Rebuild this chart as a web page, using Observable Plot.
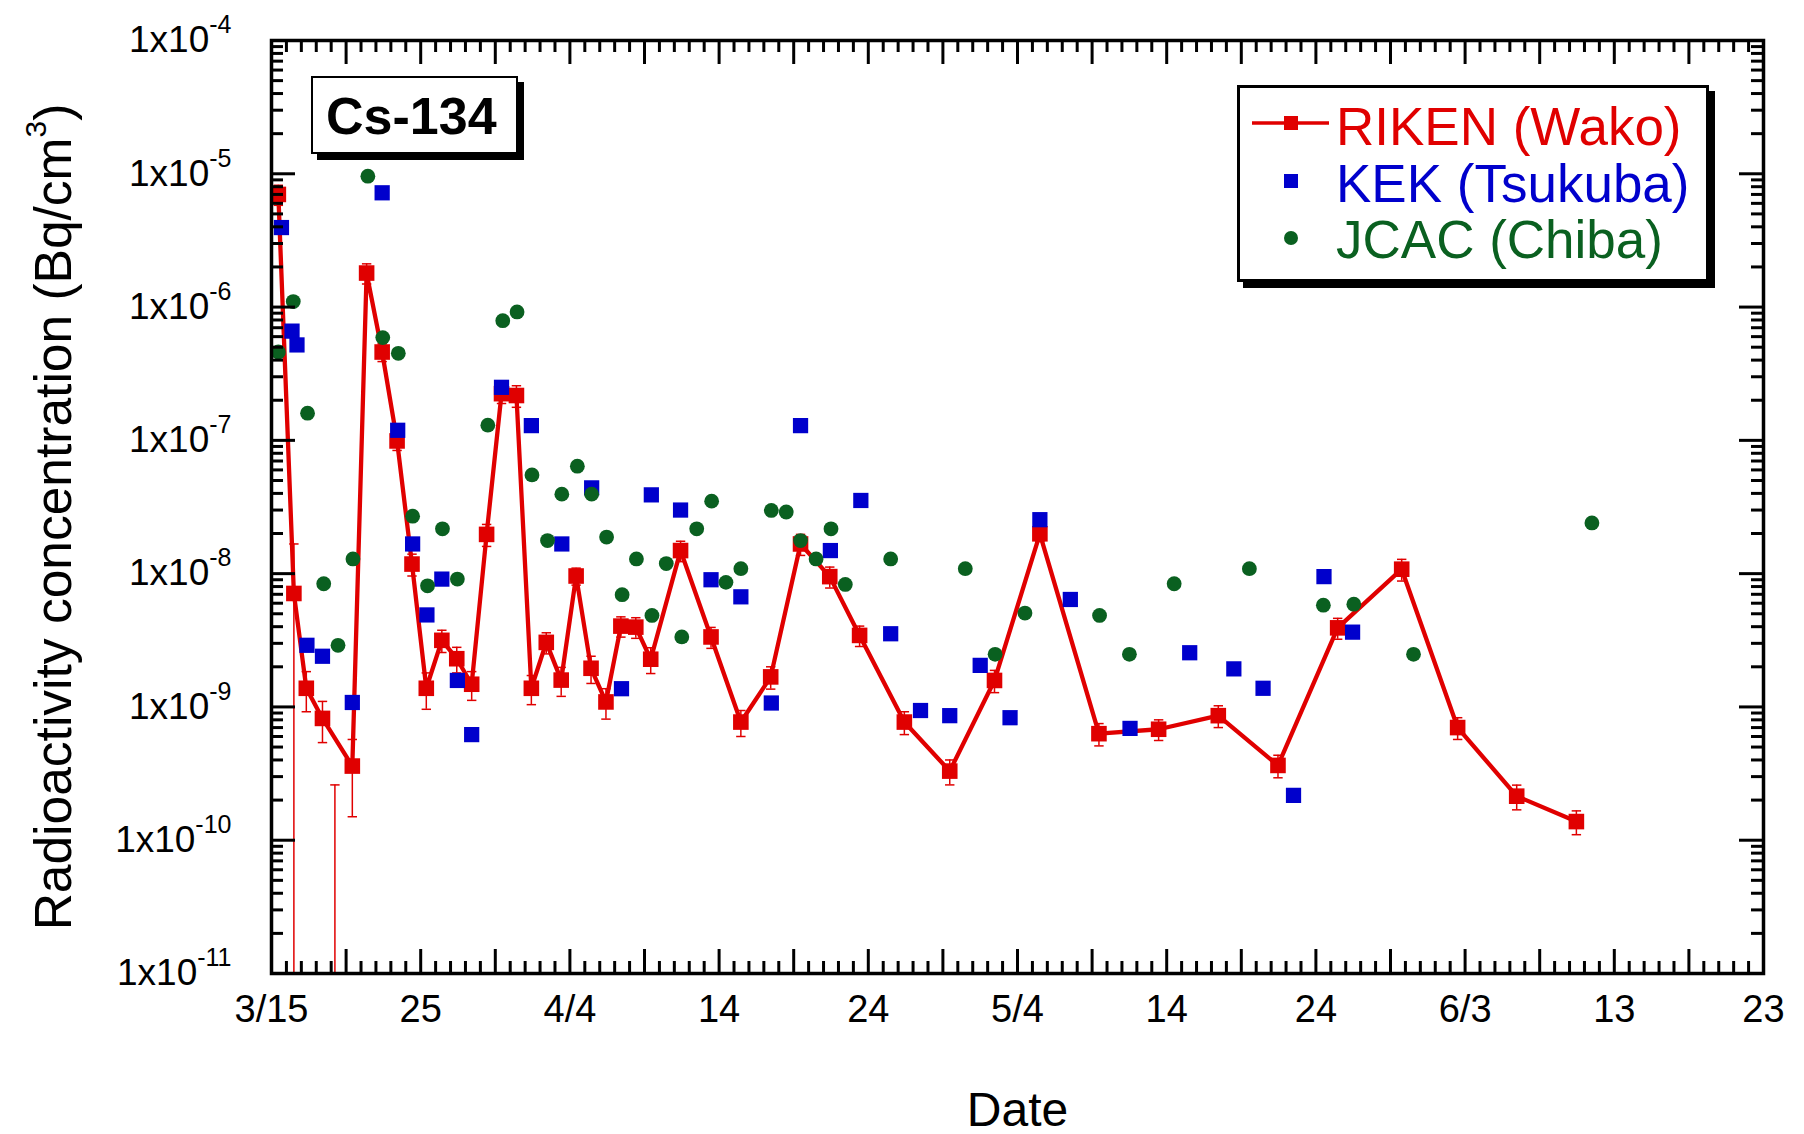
<!DOCTYPE html>
<html>
<head>
<meta charset="utf-8">
<script src="https://cdn.jsdelivr.net/npm/d3@7"></script>
<script src="https://cdn.jsdelivr.net/npm/@observablehq/plot@0.6"></script>
<style>
  body { margin: 0; background: #fff; }
  #wrap { position: relative; width: 1804px; height: 1134px; font-family: "Liberation Sans", Arial, sans-serif; }
  #nuclide { position: absolute; left: 311px; top: 76px; width: 207px; height: 78px; box-sizing: border-box;
    border: 2.5px solid #000; box-shadow: 6px 6px 0 #000; background: #fff; }
  #nuclide span { position: absolute; left: 13px; top: 12px; font-size: 52px; line-height: 52px; font-weight: bold; color: #000; }
  #legend { position: absolute; left: 1237px; top: 85px; width: 472px; height: 197px; box-sizing: border-box;
    border: 3px solid #000; box-shadow: 6px 6px 0 #000; background: #fff; }
  #legend .row { position: absolute; left: 96px; font-size: 53px; line-height: 53px; white-space: nowrap; }
  #legend svg { position: absolute; left: 0; top: 0; }
</style>
</head>
<body>
<div id="wrap"></div>
<script>
// ---------------- DATA ----------------
const RED = "#e00000", BLUE = "#0000cc", GREEN = "#0a6020";

// RIKEN (Wako): date, value (Bq/cm3), error
const rikenDates = [
  "2011-03-15 11:00","2011-03-16 12:00","2011-03-17 08:00","2011-03-18 10:00","2011-03-19 06:00",
  "2011-03-20 10:00","2011-03-21 09:00","2011-03-22 10:00","2011-03-23 10:00","2011-03-24 10:00",
  "2011-03-25 09:00","2011-03-26 10:00","2011-03-27 10:00","2011-03-28 10:00","2011-03-29 10:00",
  "2011-03-30 10:00","2011-03-31 10:00","2011-04-01 10:00","2011-04-02 10:00","2011-04-03 10:00",
  "2011-04-04 10:00","2011-04-05 10:00","2011-04-06 10:00","2011-04-07 10:00","2011-04-08 10:00",
  "2011-04-09 10:00","2011-04-11 10:00","2011-04-13 11:00","2011-04-15 11:00","2011-04-17 11:00",
  "2011-04-19 11:00","2011-04-21 10:00","2011-04-23 10:00","2011-04-26 10:00","2011-04-29 11:00",
  "2011-05-02 11:00","2011-05-05 12:00","2011-05-09 11:00","2011-05-13 11:00","2011-05-17 11:00",
  "2011-05-21 11:00","2011-05-25 11:00","2011-05-29 18:00","2011-06-02 12:00","2011-06-06 11:00",
  "2011-06-10 11:00"
];
const rikenValues = [
  7.0e-6, 7.1e-9, 1.38e-9, 8.2e-10, -1.0e-10,
  3.6e-10, 1.8e-6, 4.6e-7, 9.9e-8, 1.18e-8,
  1.38e-9, 3.16e-9, 2.3e-9, 1.48e-9, 1.97e-8,
  2.24e-7, 2.17e-7, 1.38e-9, 3.05e-9, 1.59e-9,
  9.6e-9, 1.95e-9, 1.09e-9, 4.04e-9, 3.97e-9,
  2.28e-9, 1.49e-8, 3.35e-9, 7.7e-10, 1.68e-9,
  1.67e-8, 9.5e-9, 3.44e-9, 7.7e-10, 3.3e-10,
  1.58e-9, 1.99e-8, 6.3e-10, 6.8e-10, 8.6e-10,
  3.64e-10, 3.92e-9, 1.08e-8, 7.0e-10, 2.14e-10,
  1.38e-10
];
const rikenErrors = [
  1.2e-6, 9.6e-9, 4.6e-10, 2.8e-10, 3.6e-10,
  2.1e-10, 3.1e-7, 7e-8, 1.5e-8, 2.2e-9,
  4.2e-10, 6e-10, 5e-10, 3.6e-10, 3.7e-9,
  3.5e-8, 4e-8, 3.4e-10, 5.5e-10, 3.9e-10,
  1.4e-9, 4.5e-10, 2.8e-10, 7e-10, 7e-10,
  5e-10, 2.6e-9, 6e-10, 1.7e-10, 3.2e-10,
  3e-9, 1.7e-9, 6e-10, 1.5e-10, 7e-11,
  3e-10, 2.5e-9, 1.2e-10, 1.2e-10, 1.6e-10,
  7e-11, 7e-10, 2e-9, 1.3e-10, 4.5e-11,
  2.8e-11
];

// KEK (Tsukuba)
const kekDates = [
  "2011-03-15 16:00","2011-03-16 09:00","2011-03-16 17:00","2011-03-17 09:00","2011-03-18 10:00",
  "2011-03-20 10:00","2011-03-22 10:00","2011-03-23 11:00","2011-03-24 11:00","2011-03-25 10:00",
  "2011-03-26 10:00","2011-03-27 11:00","2011-03-28 10:00","2011-03-30 10:00","2011-04-01 10:00",
  "2011-04-03 11:00","2011-04-05 11:00","2011-04-07 11:00","2011-04-09 11:00","2011-04-11 10:00",
  "2011-04-13 11:00","2011-04-15 11:00","2011-04-17 12:00","2011-04-19 11:00","2011-04-21 11:00",
  "2011-04-23 12:00","2011-04-25 12:00","2011-04-27 12:00","2011-04-29 11:00","2011-05-01 12:00",
  "2011-05-03 12:00","2011-05-05 12:00","2011-05-07 13:00","2011-05-11 13:00","2011-05-15 13:00",
  "2011-05-18 12:00","2011-05-20 11:00","2011-05-22 12:00","2011-05-24 13:00","2011-05-26 11:00"
];
const kekValues = [
  3.95e-6, 6.6e-7, 5.2e-7, 2.9e-9, 2.4e-9,
  1.08e-9, 7.2e-6, 1.19e-7, 1.67e-8, 4.9e-9,
  9.1e-9, 1.58e-9, 6.2e-10, 2.5e-7, 1.29e-7,
  1.67e-8, 4.4e-8, 1.37e-9, 3.9e-8, 3.0e-8,
  9.0e-9, 6.7e-9, 1.07e-9, 1.29e-7, 1.49e-8,
  3.54e-8, 3.54e-9, 9.4e-10, 8.6e-10, 2.05e-9,
  8.3e-10, 2.54e-8, 6.4e-9, 6.9e-10, 2.55e-9,
  1.93e-9, 1.38e-9, 2.17e-10, 9.5e-9, 3.64e-9
];

// JCAC (Chiba)
const jcacDates = [
  "2011-03-15 11:00","2011-03-16 11:00","2011-03-17 10:00","2011-03-18 12:00","2011-03-19 11:00",
  "2011-03-20 11:00","2011-03-21 11:00","2011-03-22 11:00","2011-03-23 12:00","2011-03-24 11:00",
  "2011-03-25 11:00","2011-03-26 11:00","2011-03-27 11:00","2011-03-29 12:00","2011-03-30 12:00",
  "2011-03-31 11:00","2011-04-01 11:00","2011-04-02 12:00","2011-04-03 11:00","2011-04-04 12:00",
  "2011-04-05 11:00","2011-04-06 11:00","2011-04-07 12:00","2011-04-08 11:00","2011-04-09 12:00",
  "2011-04-10 11:00","2011-04-11 12:00","2011-04-12 12:00","2011-04-13 12:00","2011-04-14 11:00",
  "2011-04-15 11:00","2011-04-17 12:00","2011-04-18 12:00","2011-04-19 11:00","2011-04-20 12:00",
  "2011-04-21 12:00","2011-04-22 11:00","2011-04-25 12:00","2011-04-30 12:00","2011-05-02 12:00",
  "2011-05-04 12:00","2011-05-09 12:00","2011-05-11 12:00","2011-05-14 12:00","2011-05-19 13:00",
  "2011-05-24 12:00","2011-05-26 13:00","2011-05-30 13:00","2011-06-11 12:00"
];
const jcacValues = [
  4.6e-7, 1.1e-6, 1.6e-7, 8.4e-9, 2.9e-9,
  1.29e-8, 9.6e-6, 5.9e-7, 4.5e-7, 2.7e-8,
  8.1e-9, 2.17e-8, 9.1e-9, 1.3e-7, 7.9e-7,
  9.2e-7, 5.5e-8, 1.77e-8, 3.95e-8, 6.4e-8,
  3.95e-8, 1.88e-8, 6.95e-9, 1.29e-8, 4.86e-9,
  1.19e-8, 3.35e-9, 2.17e-8, 3.5e-8, 8.6e-9,
  1.09e-8, 2.98e-8, 2.9e-8, 1.77e-8, 1.29e-8,
  2.17e-8, 8.3e-9, 1.29e-8, 1.09e-8, 2.48e-9,
  5.06e-9, 4.86e-9, 2.48e-9, 8.4e-9, 1.09e-8,
  5.8e-9, 5.9e-9, 2.48e-9, 2.4e-8
];

// Axis ticks and labels
const xDomain = ["2011-03-15", "2011-06-23"];
const xTickDates = ["2011-03-15","2011-03-25","2011-04-04","2011-04-14","2011-04-24","2011-05-04",
                    "2011-05-14","2011-05-24","2011-06-03","2011-06-13","2011-06-23"];
const xTickLabels = ["3/15","25","4/4","14","24","5/4","14","24","6/3","13","23"];
const yDomain = [1e-11, 1e-4];
const yTickExponents = [-11, -10, -9, -8, -7, -6, -5, -4];
const seriesNames = ["RIKEN (Wako)", "KEK (Tsukuba)", "JCAC (Chiba)"];
const nuclideLabel = "Cs-134";
const xTitle = "Date";
const yTitle = "Radioactivity concentration (Bq/cm^3)";

// ---------------- BUILD ----------------
const parseT = d3.utcParse("%Y-%m-%d %H:%M");
const parseD = d3.utcParse("%Y-%m-%d");

const riken = rikenDates.map((d, i) => ({date: parseT(d), value: rikenValues[i], err: rikenErrors[i]}));
const rikenPos = riken.filter(d => d.value > 0);
const errBars = riken.map(d => {
  const lo = d.value - d.err;
  return {date: d.date, lo: lo > 0 ? lo : yDomain[0], hi: d.value + d.err, hasLo: lo > 0};
});
const kek = kekDates.map((d, i) => ({date: parseT(d), value: kekValues[i]}));
const jcac = jcacDates.map((d, i) => ({date: parseT(d), value: jcacValues[i]}));

const x0 = parseD(xDomain[0]), x1 = parseD(xDomain[1]);
const xTicks = xTickDates.map(parseD);
const xLabelMap = new Map(xTicks.map((d, i) => [+d, xTickLabels[i]]));
const dayTicks = d3.utcDay.range(x0, d3.utcDay.offset(x1, 1));
const majorDayTicks = dayTicks.filter((d, i) => i % 5 === 0);
const minorDayTicks = dayTicks.filter((d, i) => i % 5 !== 0);

const yMajor = yTickExponents.map(e => Math.pow(10, e));
const yMinor = [];
yTickExponents.slice(0, -1).forEach(e => { for (let k = 2; k <= 9; k++) yMinor.push(k * Math.pow(10, e)); });

const W = 1804, Ht = 1134, mL = 271, mR = 41, mT = 40, mB = 161;
const PW = W - mL - mR, PH = Ht - mT - mB;
const MAJ = 24, MIN = 12;

const capSymbol = {draw(ctx, size) { const r = Math.sqrt(size / Math.PI); ctx.moveTo(-r, 0); ctx.lineTo(r, 0); }};

const chart = Plot.plot({
  width: W, height: Ht,
  marginLeft: mL, marginRight: mR, marginTop: mT, marginBottom: mB,
  style: {fontFamily: "'Liberation Sans', Arial, sans-serif", background: "#fff", overflow: "visible", color: "#000"},
  x: {type: "utc", domain: [x0, x1]},
  y: {type: "log", domain: yDomain},
  marks: [
    // RIKEN error bars
    Plot.ruleX(errBars, {x: "date", y1: "lo", y2: "hi", stroke: RED, strokeWidth: 1.5}),
    Plot.dot(errBars, {x: "date", y: "hi", symbol: capSymbol, r: 4.7, stroke: RED, strokeWidth: 1.5, fill: "none"}),
    Plot.dot(errBars.filter(d => d.hasLo), {x: "date", y: "lo", symbol: capSymbol, r: 4.7, stroke: RED, strokeWidth: 1.5, fill: "none"}),
    // RIKEN line + markers
    Plot.line(rikenPos, {x: "date", y: "value", stroke: RED, strokeWidth: 4.3}),
    Plot.dot(rikenPos, {x: "date", y: "value", symbol: "square", r: 8.8, fill: RED}),
    // KEK
    Plot.dot(kek, {x: "date", y: "value", symbol: "square", r: 8.6, fill: BLUE}),
    // JCAC
    Plot.dot(jcac, {x: "date", y: "value", r: 7.4, fill: GREEN}),
    // inward ticks on four sides
    Plot.tickX(majorDayTicks, {x: d => d, insetTop: PH - MAJ, stroke: "#000", strokeWidth: 3}),
    Plot.tickX(minorDayTicks, {x: d => d, insetTop: PH - MIN, stroke: "#000", strokeWidth: 3}),
    Plot.tickX(majorDayTicks, {x: d => d, insetBottom: PH - MAJ, stroke: "#000", strokeWidth: 3}),
    Plot.tickX(minorDayTicks, {x: d => d, insetBottom: PH - MIN, stroke: "#000", strokeWidth: 3}),
    Plot.tickY(yMajor, {y: d => d, insetRight: PW - MAJ, stroke: "#000", strokeWidth: 3}),
    Plot.tickY(yMinor, {y: d => d, insetRight: PW - MIN, stroke: "#000", strokeWidth: 3}),
    Plot.tickY(yMajor, {y: d => d, insetLeft: PW - MAJ, stroke: "#000", strokeWidth: 3}),
    Plot.tickY(yMinor, {y: d => d, insetLeft: PW - MIN, stroke: "#000", strokeWidth: 3}),
    Plot.frame({stroke: "#000", strokeWidth: 3.5}),
    // axes labels
    Plot.axisX(xTicks, {anchor: "bottom", tickSize: 0, tickPadding: 22, fontSize: 38,
      tickFormat: d => xLabelMap.get(+d), label: null}),
    Plot.axisX([], {anchor: "bottom", tickSize: 0, fontSize: 48, label: xTitle, labelAnchor: "center",
      labelOffset: 152, labelArrow: "none"}),
    Plot.axisY(yMajor, {anchor: "left", tickSize: 0, tickPadding: 40, fontSize: 37,
      tickFormat: d => "1x10|" + Math.round(Math.log10(d)), label: null}),
    Plot.axisY([], {anchor: "left", tickSize: 0, fontSize: 51.5, label: yTitle, labelAnchor: "center",
      labelOffset: 237, labelArrow: "none"})
  ]
});

// superscripts and label clean-up
d3.select(chart).selectAll("text").each(function() {
  const t = this.textContent;
  const sel = d3.select(this);
  if (t.includes("|")) {
    const [base, exp] = t.split("|");
    sel.text(null);
    sel.append("tspan").text(base);
    sel.append("tspan").attr("font-size", 25).attr("dy", -19).text(exp);
  } else if (t.includes("cm^3")) {
    const i = yTitle.indexOf("^");
    sel.text(null);
    sel.append("tspan").text(yTitle.slice(0, i));
    sel.append("tspan").attr("font-size", 30).attr("dy", -25).text(yTitle.slice(i + 1, i + 2));
    sel.append("tspan").attr("dy", 25).text(yTitle.slice(i + 2));
    const tr = sel.attr("transform") || "";
    sel.attr("transform", tr + " translate(-10,0)");
  } else if (t.includes(xTitle) && t !== xTitle) {
    sel.text(xTitle);
  }
});

const wrap = document.getElementById("wrap");
wrap.appendChild(chart);

// nuclide box
const nb = document.createElement("div");
nb.id = "nuclide";
nb.innerHTML = `<span>${nuclideLabel}</span>`;
wrap.appendChild(nb);

// legend
const lg = document.createElement("div");
lg.id = "legend";
const colors = [RED, BLUE, GREEN];
const rowTops = [12, 69, 125];
lg.innerHTML = `<svg width="466" height="191">
  <line x1="12" x2="89" y1="35" y2="35" stroke="${RED}" stroke-width="3.5"/>
  <rect x="44" y="28" width="14" height="14" fill="${RED}"/>
  <rect x="44" y="86" width="14" height="14" fill="${BLUE}"/>
  <circle cx="51" cy="150" r="7" fill="${GREEN}"/>
</svg>` + seriesNames.map((n, i) => `<div class="row" style="top:${rowTops[i]}px;color:${colors[i]}">${n}</div>`).join("");
wrap.appendChild(lg);
</script>
</body>
</html>
